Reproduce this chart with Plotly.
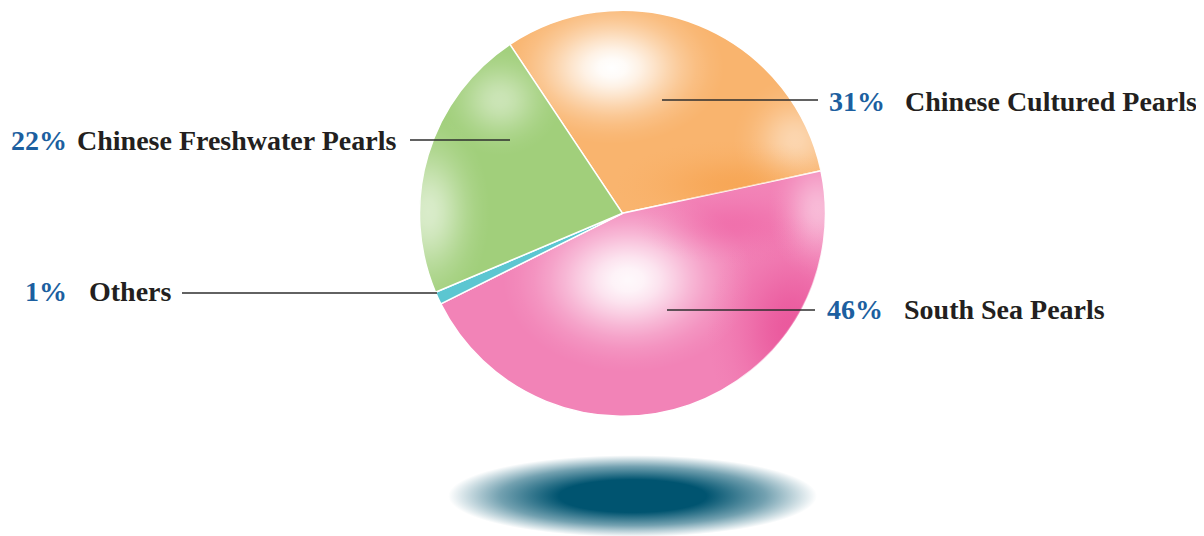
import base64
import numpy as np
import plotly.graph_objects as go

# ---- data ----
categories = ["Chinese Cultured Pearls", "South Sea Pearls", "Others", "Chinese Freshwater Pearls"]
shares = [31, 46, 1, 22]
pct_labels = ["31%", "46%", "1%", "22%"]

# ---- style / layout constants (screen pixel coordinates) ----
colors = ["#f9b46e", "#f283b7", "#5cc6d1", "#a1cf7b"]
SCREEN_W, SCREEN_H = 1204, 536
OFF = 8                      # page body margin
W, H = SCREEN_W - OFF, SCREEN_H - OFF
CX, CY, R = 622.5, 213.3, 203.0
ROT = -33.7
PCT_COLOR = "#1c5fa0"
NAME_COLOR = "#231f20"
FONT = "Liberation Serif"
FSIZE = 28

# label rows: (line_x0, line_x1, line_y, pct_x, name_x, text_y) per category
label_rows = [
    (662, 818, 100, 827, 903, 101),
    (667, 815, 310, 825, 902, 309),
    (182, 437, 293, 23, 87, 291),
    (410, 510, 140, 9, 75, 140),
]

fig = go.Figure()

# shadow ellipse below the pie
SX, SY, SA, SB = 632.5, 496.0, 184.5, 41.0
t = np.linspace(0, 2 * np.pi, 200)
fig.add_trace(go.Scatter(
    x=SX + SA * np.cos(t), y=SY + SB * np.sin(t),
    mode="lines", fill="toself", line=dict(width=0, color="rgba(0,0,0,0)"),
    fillgradient=dict(type="radial", colorscale=[
        [0, "rgba(0,84,112,1)"], [0.4, "rgba(0,84,112,1)"],
        [0.72, "rgba(0,84,112,0.55)"], [1, "rgba(0,84,112,0)"]]),
    hoverinfo="skip", showlegend=False))

# pie
fig.add_trace(go.Pie(
    values=shares, labels=categories, sort=False, direction="clockwise",
    rotation=ROT, textinfo="none", hoverinfo="label+percent",
    marker=dict(colors=colors, line=dict(color="white", width=1.5)),
    domain=dict(x=[(CX - OFF - R) / W, (CX - OFF + R) / W],
                y=[(SCREEN_H - (CY + R)) / H, (SCREEN_H - (CY - R)) / H]),
    showlegend=False))

# slice geometry derived from the data (for the glossy shading overlay)
total = float(sum(shares))
spans = [v / total * 360 for v in shares]
starts = []
a = ROT
for s in spans:
    starts.append(a)
    a += s


def wedge_path(i):
    angs = np.radians(np.linspace(starts[i], starts[i] + spans[i], 80))
    pts = [(CX, CY)] + [(CX + R * np.sin(q), CY - R * np.cos(q)) for q in angs]
    return "M " + " L ".join("%.2f,%.2f" % p for p in pts) + " Z"


def soft_stops(peak, k=3.0, n=9):
    out = []
    e = np.exp(-k)
    for o in np.linspace(0, 1, n):
        out.append((o, peak * (np.exp(-k * o * o) - e) / (1 - e)))
    return out


# shading spots: (slice, cx, cy, rx, ry, color, peak opacity)
spots = [
    (0, 612, 68, 112, 76, "#ffffff", 1.0),
    (0, 795, 140, 62, 62, "#ffffff", 0.45),
    (0, 735, 185, 120, 45, "#f59a40", 0.5),
    (1, 628, 280, 125, 92, "#ffffff", 0.95),
    (1, 792, 330, 85, 115, "#e6428f", 0.65),
    (1, 735, 225, 100, 40, "#ee5a9f", 0.45),
    (1, 818, 210, 50, 70, "#ffffff", 0.45),
    (3, 428, 212, 62, 100, "#ffffff", 0.6),
    (3, 500, 100, 62, 56, "#ffffff", 0.45),
]

defs = []
body = []
for i in range(len(shares)):
    defs.append('<clipPath id="c%d"><path d="%s"/></clipPath>' % (i, wedge_path(i)))
for k, (i, sx, sy, rx, ry, col, peak) in enumerate(spots):
    st = "".join('<stop offset="%.3f" stop-color="%s" stop-opacity="%.3f"/>' % (o, col, op)
                 for o, op in soft_stops(peak))
    defs.append('<radialGradient id="g%d">%s</radialGradient>' % (k, st))
    body.append('<g clip-path="url(#c%d)"><ellipse cx="%g" cy="%g" rx="%g" ry="%g" fill="url(#g%d)"/></g>'
                % (i, sx, sy, rx, ry, k))
svg = ('<svg xmlns="http://www.w3.org/2000/svg" width="%d" height="%d" viewBox="%d %d %d %d">'
       '<defs>%s</defs>%s</svg>') % (W, H, OFF, OFF, W, H, "".join(defs), "".join(body))
shade_src = "data:image/svg+xml;base64," + base64.b64encode(svg.encode()).decode()

# leader lines and labels
shapes = []
annotations = []
for (lx0, lx1, ly, px, nx, ty), pct, name in zip(label_rows, pct_labels, categories):
    shapes.append(dict(type="line", xref="x", yref="y", x0=lx0, x1=lx1, y0=ly, y1=ly,
                       line=dict(color="#2e2e2e", width=1.5)))
    annotations.append(dict(x=px, y=ty, xref="x", yref="y", text="<b>%s</b>" % pct,
                            showarrow=False, xanchor="left", yanchor="middle",
                            font=dict(family=FONT, size=FSIZE, color=PCT_COLOR)))
    annotations.append(dict(x=nx, y=ty, xref="x", yref="y", text="<b>%s</b>" % name,
                            showarrow=False, xanchor="left", yanchor="middle",
                            font=dict(family=FONT, size=FSIZE, color=NAME_COLOR)))

fig.update_layout(
    width=W, height=H, margin=dict(l=0, r=0, t=0, b=0),
    paper_bgcolor="white", plot_bgcolor="white",
    xaxis=dict(range=[OFF, SCREEN_W], visible=False, fixedrange=True),
    yaxis=dict(range=[SCREEN_H, OFF], visible=False, fixedrange=True),
    images=[dict(source=shade_src, xref="paper", yref="paper", x=0, y=1,
                 sizex=1, sizey=1, xanchor="left", yanchor="top",
                 sizing="stretch", layer="above")],
    shapes=shapes, annotations=annotations, showlegend=False)

fig.write_html("out.html")
